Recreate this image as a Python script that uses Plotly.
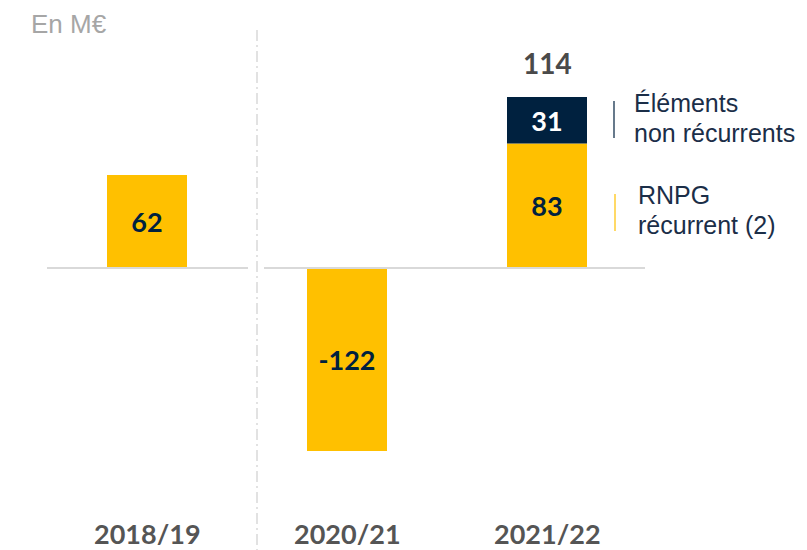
import plotly.graph_objects as go

categories = ["2018/19", "2020/21", "2021/22"]
rnpg_recurrent = [62, -122, 83]
non_recurrent = [None, None, 31]
legend_lines = [["Éléments", "non récurrents"], ["RNPG", "récurrent (2)"]]
unit_label = "En M€"

YELLOW = "#FFC000"
NAVY = "#00213F"
GRAY_TXT = "#4A4A4A"
LEG_TXT = "#1B2E48"

W, H = 799, 542   # page body has an 8px margin
OFF = 8


def px(x):
    return (x - OFF) / W


def py(y):
    return 1 - (y - OFF) / H


xs = list(range(len(categories)))

fig = go.Figure()
fig.add_trace(go.Bar(
    x=xs, y=rnpg_recurrent, width=0.4, marker=dict(color=YELLOW, line=dict(width=0)),
    text=[f"{v}" for v in rnpg_recurrent], textposition="inside", insidetextanchor="middle",
    textfont=dict(family="Lato", size=27, color=NAVY, weight="bold"), textangle=0,
    hoverinfo="skip",
))
fig.add_trace(go.Bar(
    x=xs, y=non_recurrent, width=0.4, marker=dict(color=NAVY, line=dict(width=0)),
    text=[("" if v is None else f"{v}") for v in non_recurrent], textposition="inside",
    insidetextanchor="middle",
    textfont=dict(family="Lato", size=27, color="white", weight="bold"), textangle=0,
    hoverinfo="skip",
))

# totals above stacked bars
for i, (a, b) in enumerate(zip(rnpg_recurrent, non_recurrent)):
    if b is not None:
        tot = a + b
        fig.add_annotation(x=xs[i], y=tot, yshift=34, yanchor="middle", text=f"<b>{tot}</b>",
                           showarrow=False, font=dict(family="Lato", size=28, color=GRAY_TXT))

# category labels
for i, c in enumerate(categories):
    fig.add_annotation(x=xs[i], yref="paper", y=py(533), yanchor="middle", text=f"<b>{c}</b>",
                       showarrow=False, borderpad=0,
                       font=dict(family="Lato", size=27, color="#555555"))

# zero line with gap around separator
fig.add_shape(type="line", x0=-0.5, x1=0.505, y0=0, y1=0, line=dict(color="#D9D9D9", width=2))
fig.add_shape(type="line", x0=0.585, x1=2.49, y0=0, y1=0, line=dict(color="#D9D9D9", width=2))
# dash-dot separator
fig.add_shape(type="line", x0=0.55, x1=0.55, yref="paper", y0=py(30), y1=py(550),
              line=dict(color="#D9D9D9", width=1.5, dash="11px,4px,2px,4px"))

# legend marks
fig.add_shape(type="line", xref="paper", yref="paper", x0=px(614), x1=px(614),
              y0=py(101), y1=py(138), line=dict(color=NAVY, width=1.2))
fig.add_shape(type="line", xref="paper", yref="paper", x0=px(615), x1=px(615),
              y0=py(194), y1=py(231), line=dict(color=YELLOW, width=1.2))

leg_pos = [(632, [103, 133]), (636, [195, 225])]
for (lx, lys), lines in zip(leg_pos, legend_lines):
    for ly, t in zip(lys, lines):
        fig.add_annotation(xref="paper", yref="paper", x=px(lx), y=py(ly), xanchor="left",
                           yanchor="middle", align="left", text=t, showarrow=False,
                           font=dict(family="Liberation Sans", size=25, color=LEG_TXT))

fig.add_annotation(xref="paper", yref="paper", x=px(29), y=py(24), xanchor="left",
                   yanchor="middle", text=unit_label, showarrow=False,
                   font=dict(family="Liberation Sans", size=26, color="#A6A6A6"))

fig.update_layout(
    width=W, height=H, margin=dict(l=0, r=0, t=0, b=0),
    paper_bgcolor="white", plot_bgcolor="white", barmode="relative", showlegend=False,
    xaxis=dict(range=[(0 - 139) / 200, (W - 139) / 200], visible=False, fixedrange=True),
    yaxis=dict(range=[-(H - 260) / 1.5, 260 / 1.5], visible=False, fixedrange=True),
    uniformtext=dict(mode=False),
)
fig.write_html("out.html")
